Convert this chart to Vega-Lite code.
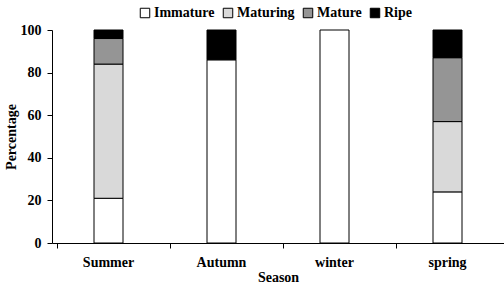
{
  "$schema": "https://vega.github.io/schema/vega-lite/v6.json",
  "width": 452,
  "height": 213,
  "autosize": {"type": "none"},
  "padding": {"left": 52, "top": 30, "right": 0, "bottom": 45},
  "background": "white",
  "config": {
    "view": {"stroke": null},
    "font": "Liberation Serif",
    "style": {"guide-label": {"font": "Liberation Serif", "fontWeight": "bold", "fill": "black"}, "guide-title": {"font": "Liberation Serif", "fontWeight": "bold", "fill": "black"}},
    "axis": {"grid": false, "domainColor": "black", "tickColor": "black", "labelColor": "black", "titleColor": "black", "labelFont": "Liberation Serif", "titleFont": "Liberation Serif", "labelFontWeight": "bold", "titleFontWeight": "bold", "labelFontSize": 14, "titleFontSize": 14},
    "legend": {"labelFont": "Liberation Serif", "labelFontWeight": 700, "labelFontSize": 14, "labelColor": "black"}
  },
  "data": {
    "values": [
      {"season": "Summer", "stage": "Immature", "rank": 1, "pct": 21},
      {"season": "Summer", "stage": "Maturing", "rank": 2, "pct": 63},
      {"season": "Summer", "stage": "Mature", "rank": 3, "pct": 12},
      {"season": "Summer", "stage": "Ripe", "rank": 4, "pct": 4},
      {"season": "Autumn", "stage": "Immature", "rank": 1, "pct": 86},
      {"season": "Autumn", "stage": "Ripe", "rank": 4, "pct": 14},
      {"season": "winter", "stage": "Immature", "rank": 1, "pct": 100},
      {"season": "spring", "stage": "Immature", "rank": 1, "pct": 24},
      {"season": "spring", "stage": "Maturing", "rank": 2, "pct": 33},
      {"season": "spring", "stage": "Mature", "rank": 3, "pct": 30},
      {"season": "spring", "stage": "Ripe", "rank": 4, "pct": 13}
    ]
  },
  "mark": {"type": "bar", "size": 29, "stroke": "black", "strokeWidth": 1},
  "encoding": {
    "x": {
      "field": "season", "type": "nominal", "sort": ["Summer", "Autumn", "winter", "spring"],
      "axis": {"title": "Season", "labelAngle": 0, "bandPosition": 0, "tickSize": 5, "labelPadding": 7, "titlePadding": 1, "domainWidth": 1}
    },
    "y": {
      "field": "pct", "type": "quantitative", "stack": "zero",
      "scale": {"domain": [0, 100]},
      "axis": {"title": "Percentage", "values": [0, 20, 40, 60, 80, 100], "tickSize": 5, "labelPadding": 6, "titlePadding": 2}
    },
    "order": {"field": "rank", "type": "quantitative", "sort": "ascending"},
    "color": {
      "field": "stage", "type": "nominal",
      "scale": {"domain": ["Immature", "Maturing", "Mature", "Ripe"], "range": ["#ffffff", "#d9d9d9", "#959595", "#000000"]},
      "legend": {
        "title": null, "orient": "none", "direction": "horizontal", "legendX": 86, "legendY": -24,
        "symbolType": "square", "symbolSize": 90, "symbolStrokeColor": "black", "symbolStrokeWidth": 1,
        "labelFont": "Liberation Serif", "labelFontWeight": 700, "labelFontSize": 14, "labelColor": "black",
        "columnPadding": 6, "labelOffset": 2
      }
    }
  }
}
